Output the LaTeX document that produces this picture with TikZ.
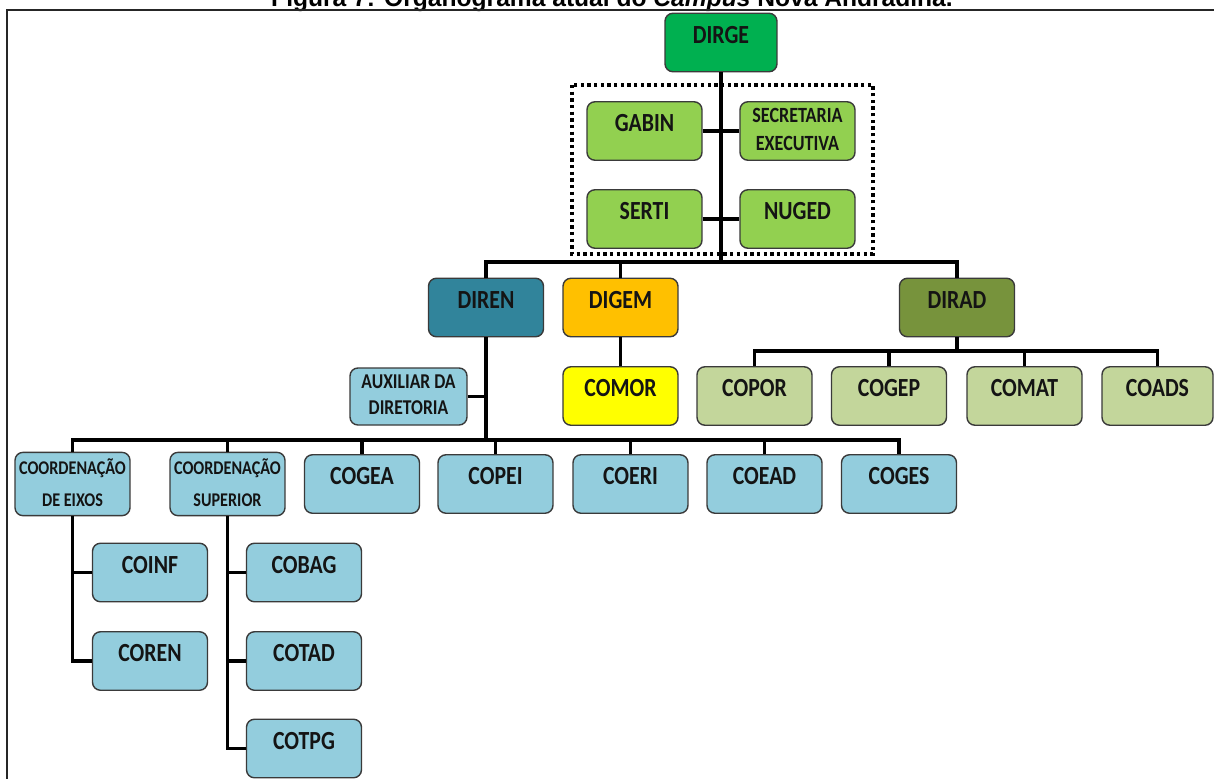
\documentclass[tikz,border=0pt]{standalone}
\usepackage{fontspec}
\setmainfont{Carlito}
\newfontfamily\titlefont{Liberation Sans}
\usetikzlibrary{calc}
\definecolor{cDirge}{HTML}{00B050}
\definecolor{cLGreen}{HTML}{92D050}
\definecolor{cDiren}{HTML}{31849B}
\definecolor{cDigem}{HTML}{FFC000}
\definecolor{cComor}{HTML}{FFFF00}
\definecolor{cDirad}{HTML}{77933C}
\definecolor{cOlive}{HTML}{C3D69B}
\definecolor{cBlue}{HTML}{93CDDD}
\definecolor{cBorder}{HTML}{3A3A3A}
\definecolor{cText}{HTML}{141414}
\newcommand\bt[1]{\scalebox{1}[1.2]{#1}}
\newcommand\tl[2]{\scalebox{1}[1.2]{\begin{tabular}{@{}c@{}}#1\\#2\end{tabular}}}
\tikzset{
  boxbase/.style={draw=cBorder, line width=0.8pt, rounded corners=4.5pt, text=cText,
    minimum width=2.3cm, minimum height=1.17cm, inner sep=0pt},
  bigbox/.style={boxbase, font=\bfseries\fontsize{12.4}{14}\selectfont,
    text height=8pt, text depth=7pt},
  smallbox/.style={boxbase, font=\bfseries\fontsize{10.3}{13.2}\selectfont},
  coordbox/.style={boxbase, font=\bfseries\fontsize{9.2}{15}\selectfont},
  auxbox/.style={boxbase, font=\bfseries\fontsize{10}{12.3}\selectfont},
  conn/.style={line width=2pt, black},
  frameline/.style={line width=1.1pt, black!85},
  dotbox/.style={line width=2.2pt, dash pattern=on 1.9pt off 1.9pt, black}
}
\begin{document}
\begin{tikzpicture}[x=0.02cm, y=-0.02cm]
\useasboundingbox (0,0) rectangle (1214,778);
\fill[white] (0,0) rectangle (1214,778);
% title (clipped by page top, as in the reference)
\node[anchor=base, inner sep=0pt, font=\titlefont\bfseries\fontsize{14}{16}\selectfont] (title) at (612,6)
  {Figura 7: Organograma atual do \textit{Campus} Nova Andradina.};
% frame
\coordinate (frbl) at (7,790);
\coordinate (frtl) at (7,10);
\coordinate (frtr) at (1225,10);
\draw[frameline] (frbl) -- (frtl) -- (frtr);
% dotted group box
\coordinate (dbA) at (572,85);
\coordinate (dbB) at (873,254);
\draw[dotbox] (dbA) rectangle (dbB);

% nodes
\node[bigbox, fill=cDirge, minimum width=2.24cm] (dirge) at (721,42.5) {\bt{DIRGE}};
\node[bigbox, fill=cLGreen] (gabin) at (644.5,131) {\bt{GABIN}};
\node[smallbox, fill=cLGreen] (secre) at (797.5,131) {\tl{SECRETARIA}{EXECUTIVA}};
\node[bigbox, fill=cLGreen] (serti) at (644.5,219) {\bt{SERTI}};
\node[bigbox, fill=cLGreen] (nuged) at (797.5,219) {\bt{NUGED}};

\node[bigbox, fill=cDiren] (diren) at (486,307.5) {\bt{DIREN}};
\node[bigbox, fill=cDigem] (digem) at (620.5,307.5) {\bt{DIGEM}};
\node[bigbox, fill=cDirad] (dirad) at (957,307.5) {\bt{DIRAD}};

\node[auxbox, fill=cBlue, minimum width=2.34cm, minimum height=1.14cm] (aux) at (408.5,396.5) {\tl{AUXILIAR DA}{DIRETORIA}};
\node[bigbox, fill=cComor] (comor) at (620.5,396) {\bt{COMOR}};
\node[bigbox, fill=cOlive] (copor) at (754.5,396) {\bt{COPOR}};
\node[bigbox, fill=cOlive] (cogep) at (889,396) {\bt{COGEP}};
\node[bigbox, fill=cOlive] (comat) at (1024.5,396) {\bt{COMAT}};
\node[bigbox, fill=cOlive, minimum width=2.22cm] (coads) at (1157.5,396) {\bt{COADS}};

\node[coordbox, fill=cBlue] (ceixos) at (72.5,484) {\tl{COORDENAÇÃO}{DE EIXOS}};
\node[coordbox, fill=cBlue] (csup) at (227.5,484) {\tl{COORDENAÇÃO}{SUPERIOR}};
\node[bigbox, fill=cBlue] (cogea) at (362,484) {\bt{COGEA}};
\node[bigbox, fill=cBlue] (copei) at (495.5,484) {\bt{COPEI}};
\node[bigbox, fill=cBlue] (coeri) at (630.5,484) {\bt{COERI}};
\node[bigbox, fill=cBlue] (coead) at (764.5,484) {\bt{COEAD}};
\node[bigbox, fill=cBlue] (coges) at (899,484) {\bt{COGES}};

\node[bigbox, fill=cBlue] (coinf) at (150,572.5) {\bt{COINF}};
\node[bigbox, fill=cBlue] (coren) at (150,661) {\bt{COREN}};
\node[bigbox, fill=cBlue] (cobag) at (304,572.5) {\bt{COBAG}};
\node[bigbox, fill=cBlue] (cotad) at (304,661) {\bt{COTAD}};
\node[bigbox, fill=cBlue] (cotpg) at (304,748.5) {\bt{COTPG}};

% connectors
\coordinate (barA) at (721,262);
\coordinate (barD) at (486,440);
\coordinate (barR) at (957,351);
\draw[conn] (dirge.south) -- (barA);
\draw[conn] (gabin.east) -- (gabin.east -| dirge.south);
\draw[conn] (secre.west) -- (secre.west -| dirge.south);
\draw[conn] (serti.east) -- (serti.east -| dirge.south);
\draw[conn] (nuged.west) -- (nuged.west -| dirge.south);
\draw[conn] (diren.north) |- (barA) -| (dirad.north);
\draw[conn] (digem.north) -- (digem.north |- barA);
\draw[conn] (digem.south) -- (comor.north);
% DIREN branch
\draw[conn] (diren.south) -- (barD);
\draw[conn] (aux.east) -- (aux.east -| diren.south);
\draw[conn] (ceixos.north) |- (barD) -| (coges.north);
\draw[conn] (csup.north) -- (csup.north |- barD);
\draw[conn] (cogea.north) -- (cogea.north |- barD);
\draw[conn] (copei.north) -- (copei.north |- barD);
\draw[conn] (coeri.north) -- (coeri.north |- barD);
\draw[conn] (coead.north) -- (coead.north |- barD);
% DIRAD branch
\draw[conn] (dirad.south) -- (barR);
\draw[conn] (copor.north) |- (barR) -| (coads.north);
\draw[conn] (cogep.north) -- (cogep.north |- barR);
\draw[conn] (comat.north) -- (comat.north |- barR);
% coordination sub-branches
\draw[conn] (ceixos.south) |- (coren.west);
\draw[conn] (ceixos.south |- coinf.west) -- (coinf.west);
\draw[conn] (csup.south) |- (cotpg.west);
\draw[conn] (csup.south |- cobag.west) -- (cobag.west);
\draw[conn] (csup.south |- cotad.west) -- (cotad.west);
\end{tikzpicture}
\end{document}
